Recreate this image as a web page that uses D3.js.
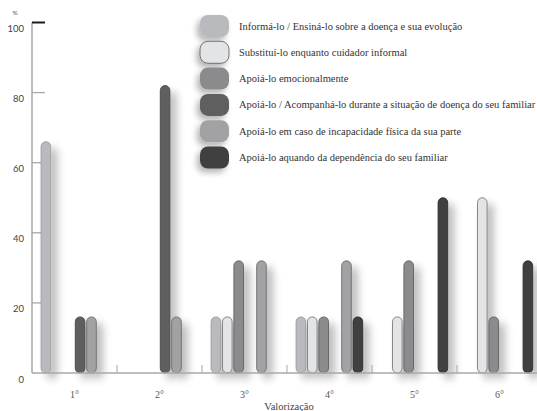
<!DOCTYPE html>
<html>
<head>
<meta charset="utf-8">
<script src="https://cdn.jsdelivr.net/npm/d3@7"></script>
<style>
  html, body { margin: 0; padding: 0; background: #fff; }
  svg { display: block; }
</style>
</head>
<body>
<svg id="chart" width="537" height="411"></svg>
<script>
// Ranking positions (x axis)
const categories = ["1°", "2°", "3°", "4°", "5°", "6°"];

// Response options (legend order)
const seriesNames = [
  "Informá-lo / Ensiná-lo sobre a doença e sua evolução",
  "Substituí-lo enquanto cuidador informal",
  "Apoiá-lo emocionalmente",
  "Apoiá-lo / Acompanhá-lo durante a situação de doença do seu familiar",
  "Apoiá-lo em caso de incapacidade física da sua parte",
  "Apoiá-lo aquando da dependência do seu familiar"
];

// Percentage per ranking position, one array per option
const informar     = [66, 0, 16, 16, 0, 0];
const substituir   = [0, 0, 16, 16, 16, 50];
const emocional    = [0, 0, 32, 16, 32, 16];
const acompanhar   = [16, 82, 0, 0, 0, 0];
const incapacidade = [16, 16, 32, 32, 0, 0];
const dependencia  = [0, 0, 0, 16, 50, 32];
const seriesValues = [informar, substituir, emocional, acompanhar, incapacidade, dependencia];

const yTicks = [0, 20, 40, 60, 80, 100];

const fills   = ["#b9babd", "#e3e4e6", "#8b8b8e", "#5e5e61", "#a2a2a5", "#3f3f41"];
const strokes = ["#9c9ca0", "#7a7a7d", "#606063", "#48484a", "#6c6c6f", "#2c2c2d"];

const svg = d3.select("#chart");

// Soft shadow behind the bars and legend swatches
const defs = svg.append("defs");
const f = defs.append("filter").attr("id", "shadow")
  .attr("x", "-100%").attr("y", "-20%").attr("width", "400%").attr("height", "150%");
f.append("feGaussianBlur").attr("in", "SourceAlpha").attr("stdDeviation", 4).attr("result", "b");
f.append("feOffset").attr("in", "b").attr("dx", 6).attr("dy", 6).attr("result", "o");
f.append("feComponentTransfer").attr("in", "o").attr("result", "s")
  .append("feFuncA").attr("type", "linear").attr("slope", 0.28);
const m = f.append("feMerge");
m.append("feMergeNode").attr("in", "s");
m.append("feMergeNode").attr("in", "SourceGraphic");

const f2 = defs.append("filter").attr("id", "shadowL")
  .attr("x", "-50%").attr("y", "-50%").attr("width", "200%").attr("height", "220%");
f2.append("feGaussianBlur").attr("in", "SourceAlpha").attr("stdDeviation", 3).attr("result", "b");
f2.append("feOffset").attr("in", "b").attr("dx", -3).attr("dy", 4).attr("result", "o");
f2.append("feComponentTransfer").attr("in", "o").attr("result", "s")
  .append("feFuncA").attr("type", "linear").attr("slope", 0.3);
const m2 = f2.append("feMerge");
m2.append("feMergeNode").attr("in", "s");
m2.append("feMergeNode").attr("in", "SourceGraphic");

const x0 = 32, groupW = 85;
const x = d3.scaleBand().domain(categories).range([x0, x0 + groupW * categories.length]).padding(0);
const xs = d3.scaleBand().domain(d3.range(seriesNames.length)).range([8.6, 76.2]).paddingInner(0.07);
const y = d3.scaleLinear().domain([0, 100]).range([373, 22.5]);

// Y axis
const yAxis = svg.append("g");
yAxis.append("line")
  .attr("x1", x0).attr("x2", x0).attr("y1", y(100)).attr("y2", y(0))
  .attr("stroke", "#9a9a9a").attr("stroke-width", 1.3);
yAxis.selectAll("line.tick").data(yTicks.filter(d => d > 0)).join("line")
  .attr("class", "tick")
  .attr("x1", x0).attr("x2", x0 + 13)
  .attr("y1", d => y(d)).attr("y2", d => y(d))
  .attr("stroke", d => d === 100 ? "#1a1a1a" : "#a8a8a8")
  .attr("stroke-width", d => d === 100 ? 2 : 1.3);
yAxis.selectAll("text").data(yTicks).join("text")
  .attr("x", 24).attr("y", d => y(d) + 9.5)
  .attr("text-anchor", "end")
  .attr("font-family", "Lato, sans-serif").attr("font-size", 9.5)
  .attr("fill", "#444")
  .text(d => d);
svg.append("text").attr("x", 15).attr("y", 14.5).attr("text-anchor", "middle")
  .attr("font-family", "Lato, sans-serif").attr("font-size", 6.5).attr("fill", "#555").text("%");

// Bars
const groups = svg.append("g").selectAll("g").data(categories).join("g")
  .attr("transform", d => `translate(${x(d)},0)`);
groups.selectAll("rect")
  .data((c, ci) => seriesValues.map((vals, si) => ({ si, v: vals[ci] })).filter(d => d.v > 0))
  .join("rect")
  .attr("x", d => xs(d.si) + 0.5)
  .attr("y", d => y(d.v))
  .attr("width", xs.bandwidth() - 1)
  .attr("height", d => y(0) - y(d.v))
  .attr("rx", (xs.bandwidth() - 1) / 2)
  .attr("fill", d => fills[d.si])
  .attr("stroke", d => strokes[d.si])
  .attr("stroke-width", 0.9)
  .attr("filter", "url(#shadow)");

// X axis
svg.append("line")
  .attr("x1", x0).attr("x2", 537).attr("y1", y(0)).attr("y2", y(0))
  .attr("stroke", "#a8a8a8").attr("stroke-width", 1.3);
svg.append("g").selectAll("line").data(categories.slice(1)).join("line")
  .attr("x1", d => x(d)).attr("x2", d => x(d))
  .attr("y1", y(0)).attr("y2", y(0) - 8)
  .attr("stroke", "#a8a8a8").attr("stroke-width", 1);
svg.append("g").selectAll("text").data(categories).join("text")
  .attr("x", d => x(d) + x.bandwidth() / 2)
  .attr("y", 398)
  .attr("text-anchor", "middle")
  .attr("font-family", "Liberation Serif, serif").attr("font-size", 10)
  .attr("fill", "#555")
  .text(d => d);
svg.append("text").attr("x", 289).attr("y", 410)
  .attr("text-anchor", "middle")
  .attr("font-family", "Liberation Serif, serif").attr("font-size", 10.5)
  .attr("fill", "#444")
  .text("Valorização");

// Legend
const legend = svg.append("g").selectAll("g").data(seriesNames).join("g")
  .attr("transform", (d, i) => `translate(200,${15 + i * 26.3})`);
legend.append("rect")
  .attr("width", 29).attr("height", 22).attr("rx", 8)
  .attr("fill", (d, i) => fills[i])
  .attr("stroke", (d, i) => i === 1 ? "#555" : "none")
  .attr("stroke-width", 0.8)
  .attr("filter", "url(#shadowL)");
legend.append("text")
  .attr("x", 39).attr("y", 14.5)
  .attr("font-family", "Liberation Serif, serif").attr("font-size", 10.5)
  .attr("fill", "#333")
  .text(d => d);
</script>
</body>
</html>
